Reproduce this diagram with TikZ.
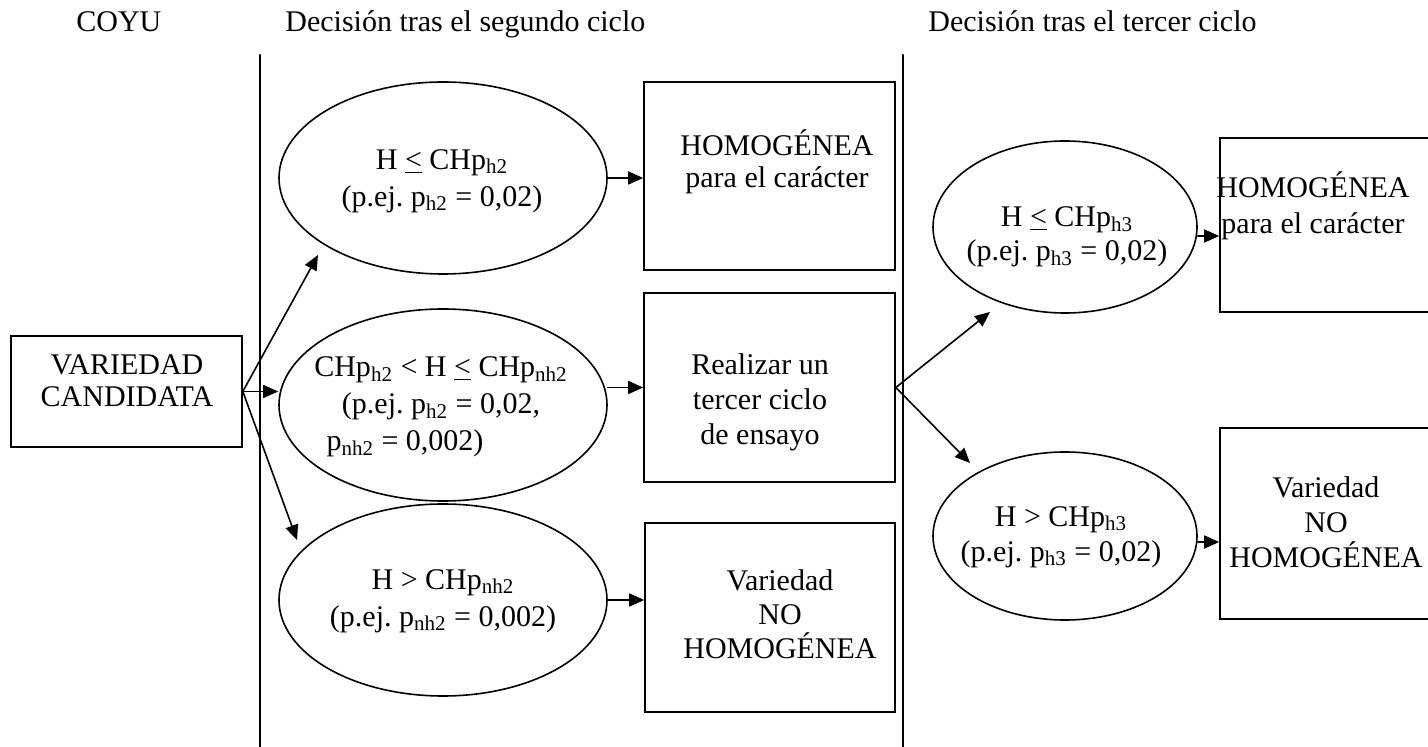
\documentclass[tikz,border=0pt]{standalone}
\usepackage{fontspec}
\setmainfont{Liberation Serif}
\frenchspacing
\usetikzlibrary{shapes.geometric,arrows.meta}

\tikzset{
  frame/.style={draw, line width=0.8pt, inner sep=0pt},
  oval/.style={draw, ellipse, line width=0.8pt, inner sep=0pt},
  lbl/.style={align=center, inner sep=0pt, font=\fontsize{15}{#1}\selectfont},
  lbl/.default=17.5pt,
  arr/.style={-{Triangle[length=7.5pt,width=6.5pt]}, line width=0.8pt},
  rule/.style={line width=1pt},
}

\begin{document}
\begin{tikzpicture}[x=0.5pt, y=-0.5pt, line cap=round]
  \useasboundingbox (0,0) rectangle (1428,747);
  % column heads and separators
  \node[lbl, anchor=base west] (hcoyu) at (76,32) {COYU};
  \node[lbl, anchor=base west] (hsec) at (285,32) {Decisión tras el segundo ciclo};
  \node[lbl, anchor=base west] (hter) at (928,32) {Decisión tras el tercer ciclo};
  \coordinate (s1a) at (260,55);
  \coordinate (s1b) at (260,747);
  \coordinate (s2a) at (903,55);
  \coordinate (s2b) at (903,747);
  \draw[rule] (s1a) -- (s1b);
  \draw[rule] (s2a) -- (s2b);

  % candidate
  \node[frame, minimum width=115.5pt, minimum height=55.5pt] (cand) at (126.5,391.5) {};
  \node[lbl=16pt] (tcand) at (127,381) {VARIEDAD\\CANDIDATA};

  % second cycle
  \node[oval, minimum width=164pt, minimum height=96pt] (le2) at (443,178) {};
  \node[oval, minimum width=164pt, minimum height=96pt] (mid2) at (443,405) {};
  \node[oval, minimum width=164pt, minimum height=96pt] (gt2) at (443,600) {};
  \node[lbl=18.5pt] (tle2) at (442,181) {H \underline{<} CHp\textsubscript{h2}\\(p.ej. p\textsubscript{h2} = 0,02)};
  \node[lbl=18.5pt] (tmid2) at (441,407) {CHp\textsubscript{h2} < H \underline{<} CHp\textsubscript{nh2}\\(p.ej. p\textsubscript{h2} = 0,02,\\p\textsubscript{nh2} = 0,002)\hspace*{36pt}};
  \node[lbl=18.5pt] (tgt2) at (443,601) {H > CHp\textsubscript{nh2}\\(p.ej. p\textsubscript{nh2} = 0,002)};

  \node[frame, minimum width=125.5pt, minimum height=94pt] (hom2) at (769.5,176) {};
  \node[frame, minimum width=125.5pt, minimum height=94.5pt] (ter2) at (769.5,387.5) {};
  \node[frame, minimum width=125pt, minimum height=94.5pt] (noh2) at (770,617.5) {};
  \node[lbl=16pt] (thom2) at (777,162) {HOMOGÉNEA\\para el carácter};
  \node[lbl] (tter2) at (760,402) {Realizar un\\tercer ciclo\\de ensayo};
  \node[lbl=17pt] (tnoh2) at (780,614) {Variedad\\NO\\HOMOGÉNEA};

  % third cycle
  \node[oval, minimum width=132pt, minimum height=86pt] (le3) at (1065,227) {};
  \node[oval, minimum width=132pt, minimum height=84pt] (gt3) at (1065,536) {};
  \node[lbl=17pt] (tle3) at (1067,237) {H \underline{<} CHp\textsubscript{h3}\\(p.ej. p\textsubscript{h3} = 0,02)};
  \node[lbl] (tgt3) at (1061,537) {H > CHp\textsubscript{h3}\\(p.ej. p\textsubscript{h3} = 0,02)};

  \node[frame, minimum width=140pt, minimum height=87pt] (hom3) at (1360,225) {};
  \node[frame, minimum width=140pt, minimum height=95.5pt] (noh3) at (1360,523.5) {};
  \node[lbl=18pt] (thom3) at (1313,206) {HOMOGÉNEA\\para el carácter};
  \node[lbl] (tnoh3) at (1326,522) {Variedad\\NO\\HOMOGÉNEA};

  % arrows
  \coordinate (tipup) at (318,255);
  \coordinate (tipdn) at (297,540);
  \coordinate (tipup3) at (990,312);
  \coordinate (tipdn3) at (970,463);
  \draw[arr] (cand.east) -- (tipup);
  \draw[arr] (cand.east) -- (cand.east -| mid2.west);
  \draw[arr] (cand.east) -- (tipdn);
  \draw[arr] (le2.east) -- (le2.east -| hom2.west);
  \draw[arr] (mid2.east |- ter2.west) -- (ter2.west);
  \draw[arr] (gt2.east) -- (gt2.east -| noh2.west);
  \draw[arr] (ter2.east) -- (tipup3);
  \draw[arr] (ter2.east) -- (tipdn3);
  \draw[arr] (le3.east |- 0,236) -- (hom3.west |- 0,236);
  \draw[arr] (gt3.east |- 0,542) -- (noh3.west |- 0,542);
\end{tikzpicture}
\end{document}
